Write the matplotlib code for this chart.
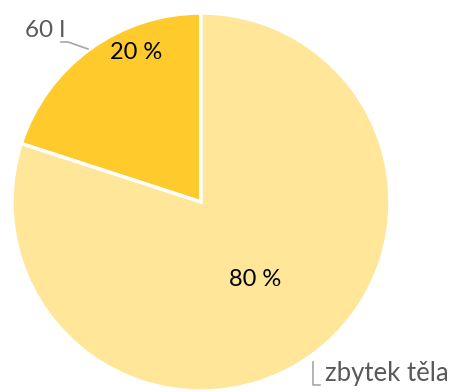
import matplotlib
matplotlib.use('Agg')
import matplotlib.pyplot as plt
import numpy as np

# Share of blood volume
labels = ['60 l', 'zbytek těla']
shares = [20, 80]
colors = ['#FFCA2C', '#FFE699']

W, H = 451, 392
fig = plt.figure(figsize=(W / 100, H / 100), dpi=100)
ax = fig.add_axes([0, 0, 1, 1])
ax.set_xlim(0, W)
ax.set_ylim(0, H)
ax.set_aspect('equal')
ax.axis('off')

cx, cy, r = 201, H - 202, 189


def py(y):
    # pixel row measured from the top -> axes y
    return H - y


wedges, _ = ax.pie(shares, colors=colors, startangle=90, counterclock=True,
                   radius=r, center=(cx, cy), frame=True,
                   wedgeprops=dict(edgecolor='white', linewidth=2.5))
ax.set_xlim(0, W)
ax.set_ylim(0, H)
ax.axis('off')

font = 'Lato'

# percentage labels inside the slices
pct_pos = [(136, 52), (255, 280)]
for val, (x, y) in zip(shares, pct_pos):
    ax.text(x, py(y), f'{val} %', ha='center', va='center',
            fontsize=17, color='black', family=font)

# category labels with leader lines
ax.plot([61, 68, 88], [py(42), py(42), py(49)], color='#A6A6A6', lw=1.2)
ax.text(25, py(30), labels[0], ha='left', va='center', fontsize=17.5,
        color='#595959', family=font)

ax.plot([313, 313, 320], [py(362), py(385), py(385)], color='#A6A6A6', lw=1.2)
ax.text(325, py(374), labels[1], ha='left', va='center', fontsize=18.5,
        color='#595959', family=font)

fig.savefig('out.png', dpi=100)
